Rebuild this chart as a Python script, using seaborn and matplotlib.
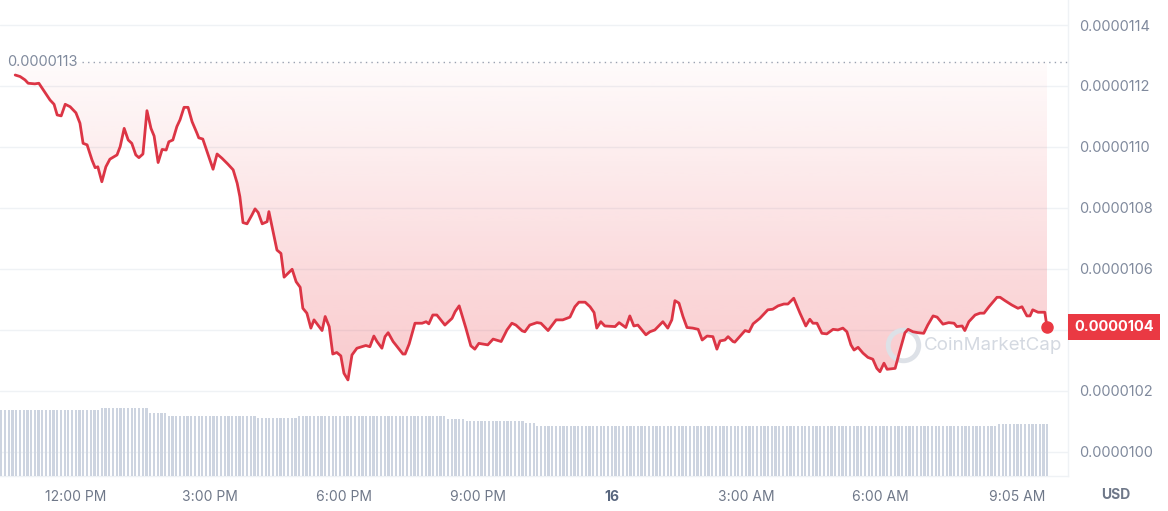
import numpy as np
import seaborn as sns
import matplotlib.pyplot as plt
from matplotlib.transforms import blended_transform_factory

# time in hours counted from 00:00 on the 15th
hours = [10.64, 10.75, 10.86, 10.93, 11.08, 11.17, 11.26, 11.42, 11.51, 11.58,
         11.67, 11.76, 11.87, 12.00, 12.09, 12.16, 12.25, 12.36, 12.43, 12.49,
         12.58, 12.67, 12.76, 12.92, 12.99, 13.08, 13.17, 13.25, 13.34, 13.41,
         13.50, 13.59, 13.68, 13.75, 13.84, 13.93, 14.02, 14.08, 14.17, 14.26,
         14.33, 14.42, 14.51, 14.60, 14.71, 14.75, 14.84, 14.96, 15.07, 15.16,
         15.27, 15.40, 15.52, 15.61, 15.67, 15.74, 15.83, 15.94, 16.01, 16.08,
         16.17, 16.28, 16.32, 16.50, 16.59, 16.66, 16.84, 16.93, 17.02, 17.08,
         17.17, 17.26, 17.33, 17.51, 17.58, 17.67, 17.75, 17.84, 17.93, 18.00,
         18.09, 18.18, 18.29, 18.40, 18.49, 18.58, 18.67, 18.74, 18.85, 18.92,
         18.99, 19.10, 19.16, 19.32, 19.37, 19.46, 19.59, 19.75, 19.84, 19.90,
         19.99, 20.08, 20.26, 20.42, 20.49, 20.58, 20.73, 20.84, 20.93, 21.02,
         21.22, 21.34, 21.52, 21.65, 21.76, 21.85, 21.99, 22.05, 22.16, 22.32,
         22.41, 22.57, 22.75, 22.90, 23.06, 23.17, 23.26, 23.40, 23.51, 23.60,
         23.66, 23.75, 23.84, 24.07, 24.16, 24.31, 24.40, 24.49, 24.58, 24.76,
         24.85, 24.96, 25.14, 25.25, 25.34, 25.41, 25.50, 25.59, 25.68, 25.81,
         25.93, 26.02, 26.13, 26.26, 26.35, 26.42, 26.53, 26.60, 26.71, 26.75,
         26.87, 26.98, 27.07, 27.16, 27.31, 27.49, 27.60, 27.72, 27.85, 27.94,
         28.07, 28.21, 28.34, 28.43, 28.50, 28.59, 28.70, 28.81, 28.95, 29.06,
         29.17, 29.26, 29.35, 29.42, 29.51, 29.62, 29.73, 29.84, 29.93, 30.00,
         30.09, 30.16, 30.34, 30.45, 30.56, 30.63, 30.74, 30.85, 30.98, 31.07,
         31.19, 31.28, 31.41, 31.54, 31.66, 31.72, 31.84, 31.90, 31.99, 32.13,
         32.24, 32.33, 32.44, 32.62, 32.69, 32.80, 32.95, 33.09, 33.18, 33.29,
         33.36, 33.42, 33.54, 33.69, 33.74]

# price in units of 1e-7 USD
price_e7 = [112.36, 112.31, 112.20, 112.09, 112.07, 112.09, 111.89, 111.54, 111.40, 111.05,
            111.02, 111.40, 111.32, 111.12, 110.78, 110.12, 110.07, 109.57, 109.32, 109.35,
            108.86, 109.35, 109.60, 109.74, 110.01, 110.61, 110.23, 110.12, 109.74, 109.65,
            109.77, 111.19, 110.61, 110.36, 109.49, 109.92, 109.90, 110.17, 110.23, 110.67,
            110.89, 111.30, 111.30, 110.83, 110.45, 110.30, 110.26, 109.74, 109.27, 109.77,
            109.63, 109.44, 109.25, 108.81, 108.37, 107.52, 107.48, 107.77, 107.97, 107.85,
            107.48, 107.55, 107.88, 106.62, 106.51, 105.73, 105.99, 105.58, 105.40, 104.71,
            104.55, 104.06, 104.33, 103.98, 104.44, 104.11, 103.21, 103.26, 103.15, 102.58,
            102.36, 103.18, 103.40, 103.45, 103.49, 103.45, 103.80, 103.62, 103.40, 103.78,
            103.91, 103.62, 103.51, 103.21, 103.21, 103.54, 104.22, 104.22, 104.27, 104.20,
            104.49, 104.49, 104.16, 104.38, 104.60, 104.79, 104.06, 103.48, 103.37, 103.56,
            103.51, 103.70, 103.62, 104.00, 104.22, 104.16, 103.97, 103.94, 104.16, 104.24,
            104.22, 103.98, 104.33, 104.33, 104.42, 104.76, 104.91, 104.91, 104.76, 104.57,
            104.06, 104.27, 104.13, 104.11, 104.24, 104.08, 104.46, 104.13, 104.16, 103.84,
            103.94, 104.00, 104.27, 104.06, 104.33, 104.96, 104.88, 104.44, 104.08, 104.06,
            104.02, 103.67, 103.80, 103.78, 103.37, 103.64, 103.67, 103.78, 103.62, 103.60,
            103.80, 103.98, 103.94, 104.20, 104.38, 104.66, 104.68, 104.79, 104.85, 104.85,
            105.04, 104.55, 104.13, 104.35, 104.22, 104.22, 103.89, 103.87, 104.02, 104.00,
            104.06, 103.94, 103.51, 103.34, 103.43, 103.24, 103.10, 103.04, 102.74, 102.63,
            102.91, 102.71, 102.74, 103.34, 103.91, 104.02, 103.94, 103.91, 103.89, 104.16,
            104.46, 104.42, 104.19, 104.24, 104.22, 104.11, 104.13, 103.98, 104.27, 104.49,
            104.55, 104.55, 104.76, 105.07, 105.07, 104.96, 104.82, 104.71, 104.76, 104.46,
            104.46, 104.66, 104.58, 104.58, 104.10]

# volume bars (5 minute buckets), read as runs of equal height
vol_levels = [66, 68, 63, 60, 58, 60, 57, 55, 53, 50, 52]
vol_counts = [27, 13, 5, 24, 11, 40, 5, 16, 3, 124, 14]
vol_start = 10.33

ref_price_e7 = 112.79
ref_label = "0.0000113"
last_label = "0.0000104"
ytick_vals = [100, 102, 104, 106, 108, 110, 112, 114]
xtick_hours = [12, 15, 18, 21, 24, 27, 30, 33.083]
xtick_labels = ["12:00 PM", "3:00 PM", "6:00 PM", "9:00 PM", "16", "3:00 AM", "6:00 AM", "9:05 AM"]

RED = "#ea3943"
GREY = "#808a9d"

sns.set_style("white")
plt.rcParams['font.family'] = ['Inter', 'DejaVu Sans']

t = np.array(hours)
price = np.array(price_e7) * 1e-7
ref = ref_price_e7 * 1e-7
vol = np.repeat(vol_levels, vol_counts)
vol_t = vol_start + np.arange(len(vol)) / 12

fig = plt.figure(figsize=(11.68, 5.11), dpi=100)
rect = [0, 35 / 511, 1068 / 1168, 476 / 511]
ax = fig.add_axes(rect)
axv = fig.add_axes(rect, sharex=ax)
axv.set_zorder(2)
axv.patch.set_visible(False)
axv.axis('off')

# horizontal grid
for v in ytick_vals:
    ax.axhline(v * 1e-7, color="#eff2f5", lw=1, zorder=0)

# gradient fill between price and reference level
poly = ax.fill_between(t, price, ref, color='none', lw=0)
rgba = np.zeros((256, 1, 4))
rgba[..., :3] = plt.matplotlib.colors.to_rgb(RED)
rgba[..., 3] = np.linspace(0.27, 0.02, 256).reshape(-1, 1)
img = ax.imshow(rgba, extent=[t[0], t[-1], price.min(), ref], origin='lower',
                aspect='auto', zorder=1, interpolation='bilinear')
img.set_clip_path(poly.get_paths()[0], transform=ax.transData)

sns.lineplot(x=t, y=price, ax=ax, color="#dc3545", lw=2.0, zorder=3)
ax.plot(t[-1], price[-1], 'o', color=RED, ms=8, zorder=4)

# reference line
ax.axhline(ref, xmin=82 / 1068, xmax=1, color="#9aa2b1", lw=1, ls=(0, (1, 3)), zorder=2)
ax.text(7 / 1068, ref, ref_label, transform=blended_transform_factory(ax.transAxes, ax.transData),
        ha='left', va='center', fontsize=10.5, color=GREY)

# volume
axv.bar(vol_t, vol, width=0.6 / 12, color="#cdd4e0", align='center', lw=0)
axv.set_ylim(0, max(vol) * 7.0)

ax.set_xlim(10.30, 34.21)
ax.set_ylim(99.21e-7, 114.82e-7)

ax.yaxis.tick_right()
ax.set_yticks([v * 1e-7 for v in ytick_vals])
ax.set_yticklabels(["" if v == 104 else f"{v * 1e-7:.7f}" for v in ytick_vals])
ax.tick_params(axis='y', length=0, pad=8, labelsize=10.5, labelcolor=GREY)
ax.set_xticks(xtick_hours)
ax.set_xticklabels(xtick_labels)
ax.tick_params(axis='x', length=0, pad=10, labelsize=10, labelcolor="#6f7889")
for lbl in ax.get_xticklabels():
    if lbl.get_text() == "16":
        lbl.set_fontweight('bold')
        lbl.set_color("#58667e")

for s in ['top', 'left']:
    ax.spines[s].set_visible(False)
for s in ['right', 'bottom']:
    ax.spines[s].set_color("#eff2f5")
    ax.spines[s].set_linewidth(1)

# current price tag
ax.text(1.0 + 6 / 1068, price[-1], last_label,
        transform=blended_transform_factory(ax.transAxes, ax.transData),
        ha='left', va='center', fontsize=10.5, fontweight='bold', color='white', zorder=5,
        bbox=dict(boxstyle='square,pad=0.42', fc=RED, ec='none'), clip_on=False)

fig.text(1116 / 1168, 16 / 511, "USD", ha='center', va='center', fontsize=10,
         fontweight='bold', color="#6f7889")

# watermark
ax.plot([903 / 1068], [(476 - 345) / 476], 'o', ms=22, mfc='none', mec="#dde1e7", mew=3.5,
        transform=ax.transAxes, zorder=2)
ax.text(924 / 1068, (476 - 345) / 476, "CoinMarketCap", transform=ax.transAxes,
        ha='left', va='center', fontsize=13.5, color="#d4d9e1", zorder=2)

fig.savefig("out.png", dpi=100)
